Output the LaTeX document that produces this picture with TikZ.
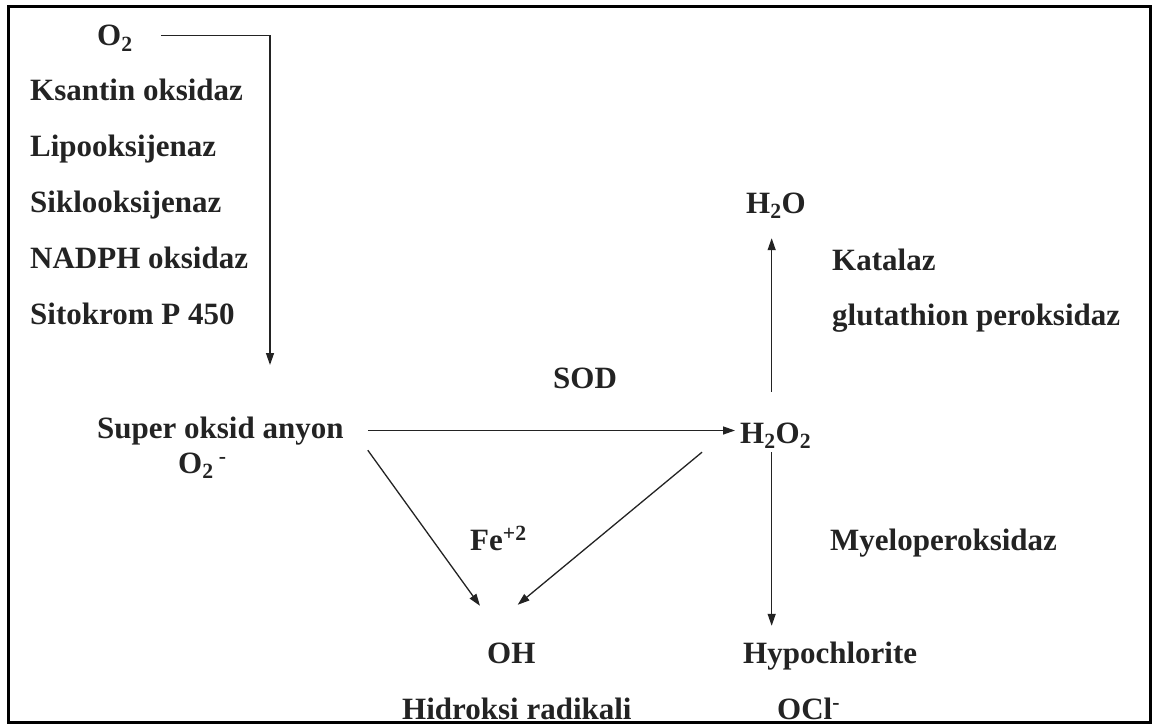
\documentclass[tikz,border=0pt]{standalone}
\usepackage{fontspec}
\setmainfont{Liberation Serif}
\usetikzlibrary{arrows.meta}
\definecolor{ink}{RGB}{35,35,35}
\begin{document}
\begin{tikzpicture}[x=1pt,y=-1pt,
  lbl/.style={inner sep=0pt,anchor=base west,text=ink,font=\fontsize{31}{36}\selectfont\bfseries,text height=21pt,text depth=6pt},
  arr/.style={draw=ink,line width=1.3pt,-{Triangle[length=12pt,width=8pt]}},
  ln/.style={draw=ink,line width=1.3pt}]
\useasboundingbox (0,0) rectangle (1165,725);
\draw[line width=3pt,black] (8,7) rectangle (1150,722);
% left column
\node[lbl] (o2) at (97,46) {O\textsubscript{2}};
\node[lbl] (e1) at (30,100) {Ksantin oksidaz};
\node[lbl] (e2) at (30,156) {Lipooksijenaz};
\node[lbl] (e3) at (30,212) {Siklooksijenaz};
\node[lbl] (e4) at (30,268) {NADPH oksidaz};
\node[lbl] (e5) at (30,324) {Sitokrom P 450};
\node[lbl] (sup) at (97,438) {Super oksid anyon};
\node[lbl] (o2m) at (178,473) {O\textsubscript{2}\,\textsuperscript{-}};
\node[lbl] (sod) at (553,388) {SOD};
% right column
\node[lbl] (h2o) at (746,213) {H\textsubscript{2}O};
\node[lbl] (kat) at (832,270) {Katalaz};
\node[lbl] (glu) at (832,325) {glutathion peroksidaz};
\node[lbl] (h2o2) at (740,443) {H\textsubscript{2}O\textsubscript{2}};
\node[lbl] (fe) at (470,550) {Fe\textsuperscript{+2}};
\node[lbl] (mye) at (830,550) {Myeloperoksidaz};
\node[lbl] (oh) at (487,663) {OH};
\node[lbl] (hyp) at (743,663) {Hypochlorite};
\node[lbl] (hid) at (402,719) {Hidroksi radikali};
\node[lbl] (ocl) at (777,719) {OCl\textsuperscript{-}};
\coordinate (c1) at (270,365);
% connectors
\draw[arr] ([xshift=28pt,yshift=3pt]o2.east) -| (c1);
\draw[arr] ([xshift=24pt]sup.east) -- ([xshift=-5pt]sup.east -| h2o2.west);
\draw[arr,shorten <=30pt,shorten >=19pt] ([xshift=-4pt]h2o2.north) -- ([xshift=-4pt]h2o2.north |- h2o.south);
\draw[arr,shorten <=3pt,shorten >=16pt] ([xshift=-4pt]h2o2.south) -- ([xshift=-4pt]h2o2.south |- hyp.north);
\draw[arr] ([shift={(24,6)}]sup.south east) -- ([shift={(-7,-36)}]oh.north west);
\draw[arr] ([shift={(-38,3)}]h2o2.south west) -- ([shift={(-18,-37)}]oh.north east);
\end{tikzpicture}
\end{document}
